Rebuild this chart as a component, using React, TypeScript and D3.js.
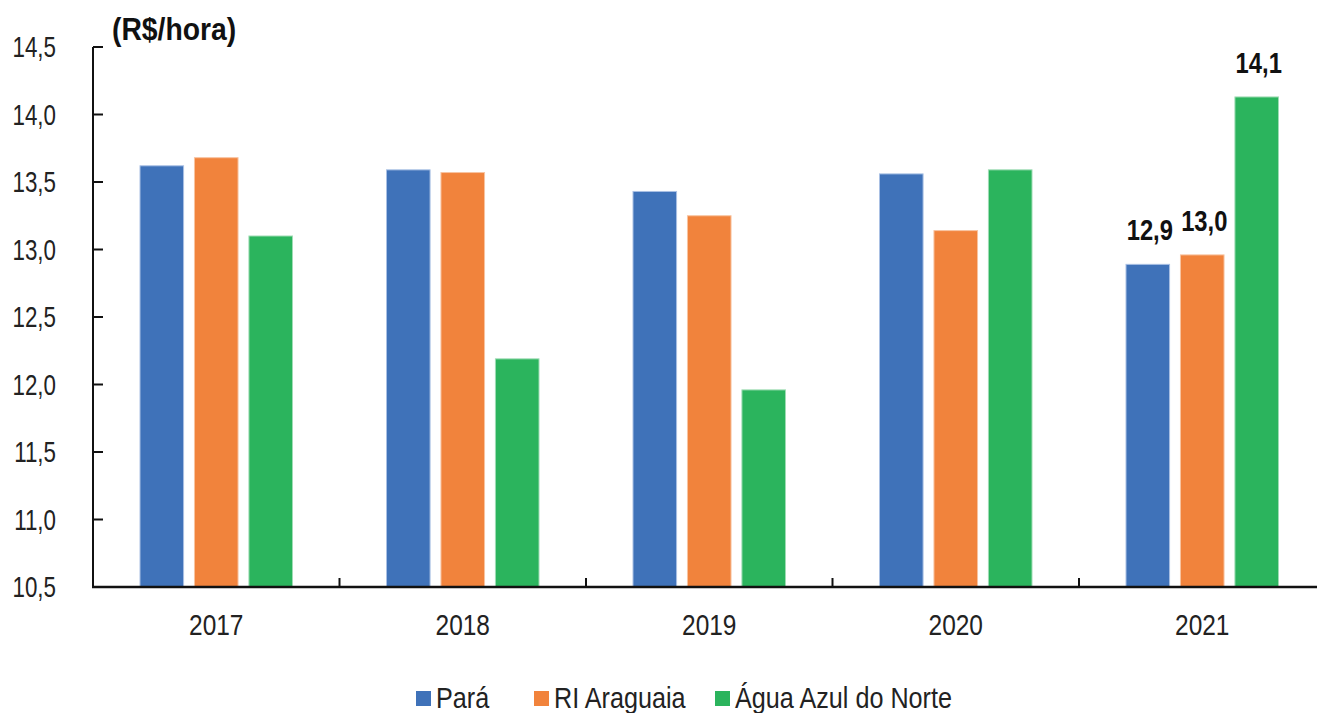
import { useEffect, useRef } from "react"
import * as d3 from "d3"

const years = ["2017", "2018", "2019", "2020", "2021"]
const para = [13.62, 13.59, 13.43, 13.56, 12.89]
const riAraguaia = [13.68, 13.57, 13.25, 13.14, 12.96]
const aguaAzul = [13.1, 12.19, 11.96, 13.59, 14.13]
const yTicks = [10.5, 11, 11.5, 12, 12.5, 13, 13.5, 14, 14.5]
const seriesNames = ["Pará", "RI Araguaia", "Água Azul do Norte"]
const colors = ["#3f72b9", "#f1833c", "#2bb45d"]
const strokes = ["#a9c0e4", "#f8c3a0", "#9fdcb4"]

const W = 1317
const H = 713
const FONT = "'Liberation Sans', Arial, sans-serif"

type G = d3.Selection<SVGGElement, unknown, null, undefined>
type S = d3.Selection<SVGSVGElement, unknown, null, undefined>

// narrow text: the reference font is a condensed Arial
function narrowText(
  parent: S | G,
  x: number,
  y: number,
  txt: string,
  opts: { size: number; sx: number; anchor?: string; bold?: boolean; fill?: string },
) {
  parent
    .append("g")
    .attr("transform", `translate(${x},${y}) scale(${opts.sx},1)`)
    .append("text")
    .attr("text-anchor", opts.anchor ?? "start")
    .style("font-family", FONT)
    .style("font-size", `${opts.size}px`)
    .style("font-weight", opts.bold ? "bold" : "normal")
    .style("fill", opts.fill ?? "#222")
    .text(txt)
}

export default function App() {
  const svgRef = useRef<SVGSVGElement>(null)

  useEffect(() => {
    if (!svgRef.current) return
    document.body.style.margin = "0"
    const svg = d3.select(svgRef.current) as S
    svg.selectAll("*").remove()

    const left = 93
    const series = [para, riAraguaia, aguaAzul]

    const x = d3.scaleBand<string>().domain(years).range([left, left + 246.5 * 5])
    const inner = d3
      .scaleBand<number>()
      .domain([0, 1, 2])
      .range([47, x.bandwidth() - 47])
      .paddingInner(0.2)
    const y = d3.scaleLinear().domain([10.5, 14.5]).range([587, 47])

    const fmt = (v: number) => (Math.round(v * 10) / 10).toFixed(1).replace(".", ",")

    // bars
    series.forEach((vals, si) => {
      svg
        .append("g")
        .selectAll("rect")
        .data(vals)
        .enter()
        .append("rect")
        .attr("x", (_, i) => (x(years[i]) as number) + (inner(si) as number))
        .attr("y", (d) => y(d))
        .attr("width", inner.bandwidth())
        .attr("height", (d) => y(10.5) - y(d))
        .attr("fill", colors[si])
        .attr("stroke", strokes[si])
        .attr("stroke-width", 1)
    })

    // value labels, last year only
    series.forEach((vals, si) => {
      const i = years.length - 1
      const cx = (x(years[i]) as number) + (inner(si) as number) + inner.bandwidth() / 2
      narrowText(svg, cx + 2, y(vals[i]) - 24, fmt(vals[i]), {
        size: 29,
        sx: 0.82,
        anchor: "middle",
        bold: true,
        fill: "#111",
      })
    })

    // y axis
    svg
      .append("line")
      .attr("x1", left)
      .attr("x2", left)
      .attr("y1", y(14.5))
      .attr("y2", y(10.5))
      .attr("stroke", "#111")
      .attr("stroke-width", 2)

    svg
      .append("g")
      .selectAll("line")
      .data(yTicks)
      .enter()
      .append("line")
      .attr("x1", left)
      .attr("x2", left + 10)
      .attr("y1", (d) => y(d))
      .attr("y2", (d) => y(d))
      .attr("stroke", "#111")
      .attr("stroke-width", 2)

    yTicks.forEach((t) => {
      narrowText(svg, 56, y(t) + 10, fmt(t), { size: 29, sx: 0.77, anchor: "end" })
    })

    // x axis
    svg
      .append("line")
      .attr("x1", left - 1)
      .attr("x2", W)
      .attr("y1", y(10.5))
      .attr("y2", y(10.5))
      .attr("stroke", "#111")
      .attr("stroke-width", 2.5)

    svg
      .append("g")
      .selectAll("line")
      .data(years.slice(1))
      .enter()
      .append("line")
      .attr("x1", (d) => x(d) as number)
      .attr("x2", (d) => x(d) as number)
      .attr("y1", y(10.5))
      .attr("y2", y(10.5) - 9)
      .attr("stroke", "#111")
      .attr("stroke-width", 2)

    years.forEach((yr) => {
      narrowText(svg, (x(yr) as number) + x.bandwidth() / 2, 635, yr, {
        size: 30,
        sx: 0.815,
        anchor: "middle",
      })
    })

    // unit title
    narrowText(svg, 112, 40, "(R$/hora)", { size: 32, sx: 0.885, bold: true, fill: "#111" })

    // legend
    const legendX = [416, 534, 715]
    seriesNames.forEach((name, i) => {
      svg
        .append("rect")
        .attr("x", legendX[i])
        .attr("y", 691)
        .attr("width", 15)
        .attr("height", 15)
        .attr("fill", colors[i])
      narrowText(svg, legendX[i] + 20, 708, name, { size: 30, sx: 0.84 })
    })
  }, [])

  return (
    <svg
      ref={svgRef}
      width={W}
      height={H}
      style={{ display: "block", background: "#fff" }}
    ></svg>
  )
}
